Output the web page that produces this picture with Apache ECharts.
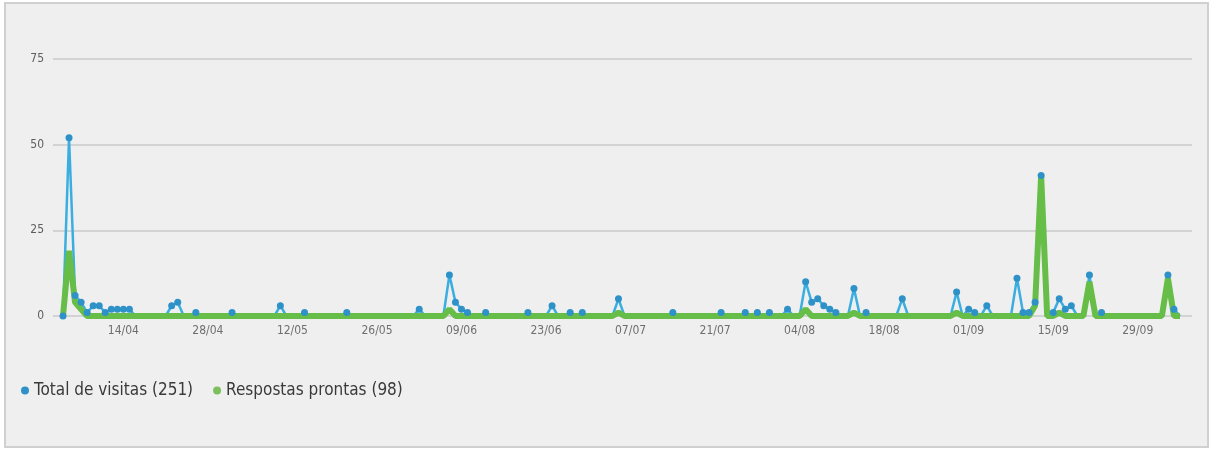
<!DOCTYPE html>
<html>
<head>
<meta charset="utf-8">
<script src="https://cdn.jsdelivr.net/npm/echarts@6/dist/echarts.min.js"></script>
<style>
  body { margin: 0; background: #fff; }
  #frame { position: absolute; left: 4px; top: 2px; width: 1205px; height: 446px;
           background: #efefef; border: 2px solid #d0d0d0; box-sizing: border-box; }
  #chart { position: absolute; left: 0; top: 0; width: 1212px; height: 450px; }
</style>
</head>
<body>
<div id="frame"></div>
<div id="chart"></div>
<script>
// daily points, 04/04 -> 06/10
const startDay = new Date(2014, 3, 4);
const dayCount = 186;
const tickLabels = ['14/04', '28/04', '12/05', '26/05', '09/06', '23/06', '07/07',
  '21/07', '04/08', '18/08', '01/09', '15/09', '29/09'];
const yTicks = [0, 25, 50, 75];

// one row = two weeks
const totalVisitas = [
  0, 52, 6, 4, 1, 3, 3, 1, 2, 2, 2, 2, 0, 0,
  0, 0, 0, 0, 3, 4, 0, 0, 1, 0, 0, 0, 0, 0,
  1, 0, 0, 0, 0, 0, 0, 0, 3, 0, 0, 0, 1, 0,
  0, 0, 0, 0, 0, 1, 0, 0, 0, 0, 0, 0, 0, 0,
  0, 0, 0, 2, 0, 0, 0, 0, 12, 4, 2, 1, 0, 0,
  1, 0, 0, 0, 0, 0, 0, 1, 0, 0, 0, 3, 0, 0,
  1, 0, 1, 0, 0, 0, 0, 0, 5, 0, 0, 0, 0, 0,
  0, 0, 0, 1, 0, 0, 0, 0, 0, 0, 0, 1, 0, 0,
  0, 1, 0, 1, 0, 1, 0, 0, 2, 0, 0, 10, 4, 5,
  3, 2, 1, 0, 0, 8, 0, 1, 0, 0, 0, 0, 0, 5,
  0, 0, 0, 0, 0, 0, 0, 0, 7, 0, 2, 1, 0, 3,
  0, 0, 0, 0, 11, 1, 1, 4, 41, 0, 1, 5, 2, 3,
  0, 0, 12, 0, 1, 0, 0, 0, 0, 0, 0, 0, 0, 0,
  0, 12, 2, 0
];
const respostasProntas = [
  0, 19, 4, 2, 0, 0, 0, 0, 0, 0, 0, 0, 0, 0,
  0, 0, 0, 0, 0, 0, 0, 0, 0, 0, 0, 0, 0, 0,
  0, 0, 0, 0, 0, 0, 0, 0, 0, 0, 0, 0, 0, 0,
  0, 0, 0, 0, 0, 0, 0, 0, 0, 0, 0, 0, 0, 0,
  0, 0, 0, 0, 0, 0, 0, 0, 2, 0, 0, 0, 0, 0,
  0, 0, 0, 0, 0, 0, 0, 0, 0, 0, 0, 0, 0, 0,
  0, 0, 0, 0, 0, 0, 0, 0, 1, 0, 0, 0, 0, 0,
  0, 0, 0, 0, 0, 0, 0, 0, 0, 0, 0, 0, 0, 0,
  0, 0, 0, 0, 0, 0, 0, 0, 0, 0, 0, 2, 0, 0,
  0, 0, 0, 0, 0, 1, 0, 0, 0, 0, 0, 0, 0, 0,
  0, 0, 0, 0, 0, 0, 0, 0, 1, 0, 0, 0, 0, 0,
  0, 0, 0, 0, 0, 0, 0, 3, 41, 0, 0, 1, 0, 0,
  0, 0, 10, 0, 0, 0, 0, 0, 0, 0, 0, 0, 0, 0,
  0, 11, 0, 0
];
const seriesNames = ['Total de visitas (251)', 'Respostas prontas (98)'];

const pad = n => String(n).padStart(2, '0');
const days = [];
for (let i = 0; i < dayCount; i++) {
  const d = new Date(startDay.getTime() + i * 86400000);
  days.push(pad(d.getDate()) + '/' + pad(d.getMonth() + 1));
}

const font = "'DejaVu Sans Condensed', 'Liberation Sans Narrow', sans-serif";

const chart = echarts.init(document.getElementById('chart'), null, { renderer: 'canvas' });
chart.setOption({
  animation: false,
  textStyle: { fontFamily: font },
  legend: {
    left: 16, top: 377,
    icon: 'circle', itemWidth: 8, itemHeight: 8, itemGap: 20,
    textStyle: { fontSize: 17, color: '#3a3a3a', fontFamily: font },
    data: seriesNames
  },
  // grid 0 only carries the wider y grid lines, grid 1 carries the series
  grid: [
    { left: 53, right: 20, top: 59, bottom: 134 },
    { left: 63, right: 32, top: 59, bottom: 134 }
  ],
  xAxis: [
    { type: 'value', gridIndex: 0, show: false, min: 0, max: 1 },
    {
      type: 'category', gridIndex: 1, data: days, boundaryGap: false,
      axisLine: { show: false }, axisTick: { show: false },
      axisLabel: {
        interval: (idx, val) => tickLabels.includes(val),
        color: '#6e6e6e', fontSize: 12, margin: 9
      }
    }
  ],
  yAxis: [
    {
      type: 'value', gridIndex: 0, min: yTicks[0], max: yTicks[yTicks.length - 1], interval: 25,
      axisLine: { show: false }, axisTick: { show: false },
      axisLabel: { color: '#5e5e5e', fontSize: 12, margin: 9, padding: [5, 0, 0, 0] },
      splitLine: { lineStyle: { color: '#d3d3d3', width: 2 } }
    },
    {
      type: 'value', gridIndex: 1, min: yTicks[0], max: yTicks[yTicks.length - 1], interval: 25,
      show: false, splitLine: { show: false }
    }
  ],
  series: [
    {
      name: seriesNames[0], type: 'line', xAxisIndex: 1, yAxisIndex: 1,
      data: totalVisitas, symbol: 'circle', showAllSymbol: true,
      symbolSize: (v, p) => (v > 0 || p.dataIndex === 0 ? 7 : 0),
      lineStyle: { color: '#3aaee0', width: 2.5 },
      itemStyle: { color: '#2e92c8' }
    },
    {
      name: seriesNames[1], type: 'line', xAxisIndex: 1, yAxisIndex: 1,
      data: respostasProntas, symbol: 'circle', showSymbol: false,
      lineStyle: { color: '#66bd48', width: 6 },
      itemStyle: { color: '#7cbf5c' }
    }
  ]
});
</script>
</body>
</html>
